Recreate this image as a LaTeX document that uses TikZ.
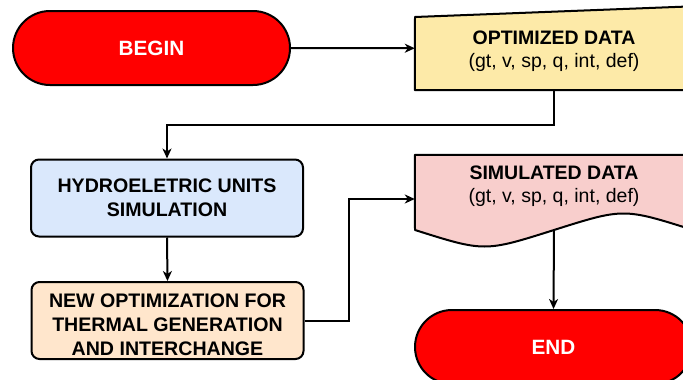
\documentclass[tikz,border=0pt]{standalone}
\usepackage{fontspec}
\setmainfont{Liberation Sans}
\usetikzlibrary{arrows.meta}

\definecolor{termred}{HTML}{FF0000}
\definecolor{optfill}{HTML}{FDEAA8}
\definecolor{simfill}{HTML}{F8CECC}
\definecolor{hydrofill}{HTML}{DAE8FC}
\definecolor{newfill}{HTML}{FFE6CC}

\tikzset{
  outline/.style={draw=black, line width=2pt, line join=round},
  terminal/.style={outline, fill=termred, rectangle, rounded corners=37pt,
    minimum width=277pt, minimum height=74pt, inner sep=0pt,
    text=white, font=\fontsize{20.7}{24}\selectfont\bfseries},
  procbox/.style={outline, rectangle, rounded corners=8pt,
    minimum width=272pt, minimum height=77pt, inner sep=0pt},
  anchorbox/.style={rectangle, inner sep=0pt, minimum width=278pt},
  boxtext/.style={align=center, inner sep=0pt,
    font=\fontsize{19.6}{23.8}\selectfont\bfseries},
  datatext/.style={align=center, inner sep=0pt,
    font=\fontsize{19.5}{23}\selectfont},
  flow/.style={draw=black, line width=2pt,
    -{Stealth[length=10pt, width=9pt, inset=3pt]}},
}

\begin{document}
\begin{tikzpicture}[x=1pt, y=-1pt]
\useasboundingbox (0,0) rectangle (683,380);
\clip (0,0) rectangle (683,380);

% terminals
\node[terminal] (begin) at (151.5,48) {BEGIN};
\node[terminal] (end) at (553.5,347) {END};

% optimized data: manual input shape
\node[anchorbox, minimum height=83.5pt] (opt) at (554,48.25) {};
\draw[outline, fill=optfill]
  (opt.south west) -- (415,17) -- (opt.north east) -- (opt.south east) -- cycle;
\node[datatext] (opttxt) at (554,51)
  {\textbf{OPTIMIZED DATA}\\(gt, v, sp, q, int, def)};

% simulated data: document shape with wavy bottom
\node[anchorbox, minimum height=88pt] (sim) at (554,199) {};
\draw[outline, fill=simfill]
  (sim.north west) -- (sim.north east) -- (693,230)
  .. controls (623.5,208) .. (554,230)
  .. controls (484.5,252) .. (415,230) -- cycle;
\coordinate (simbot) at (554,230);
\node[datatext] (simtxt) at (554,186.5)
  {\textbf{SIMULATED DATA}\\(gt, v, sp, q, int, def)};

% process boxes
\node[procbox, fill=hydrofill] (hydro) at (167,198) {};
\node[boxtext] (hydrotxt) at (167,198) {HYDROELETRIC UNITS\\SIMULATION};

\node[procbox, fill=newfill, minimum height=77pt] (new) at (167.5,320.5) {};
\node[boxtext] (newtxt) at (167.5,324.5)
  {NEW OPTIMIZATION FOR\\THERMAL GENERATION\\AND INTERCHANGE};

% connectors
\draw[flow] (begin.east) -- (opt.west);
\draw[flow] (opt.south) -- ++(0,35) -| (hydro.north);
\draw[flow] (hydro.south) -- (new.north);
\draw[flow] (new.east) -- ++(44.5,0) |- (sim.west);
\draw[flow] (simbot) -- (end.north);
\end{tikzpicture}
\end{document}
